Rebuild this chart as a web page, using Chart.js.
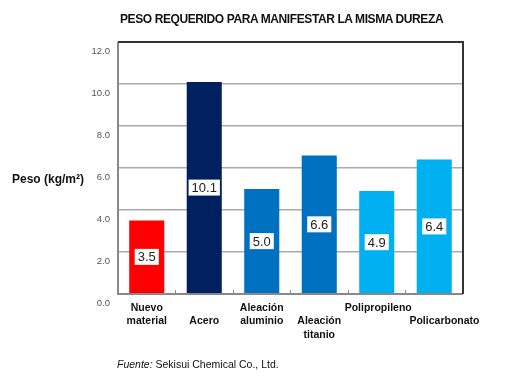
<!DOCTYPE html>
<html>
<head>
<meta charset="utf-8">
<script src="https://cdn.jsdelivr.net/npm/chart.js@4/dist/chart.umd.min.js"></script>
<style>
  body { margin: 0; background: #fff; }
  #wrap { position: relative; width: 520px; height: 382px; }
  canvas { position: absolute; left: 0; top: 0; }
  .txt { position: absolute; font-family: "Liberation Sans", Arial, sans-serif; color: #111; white-space: nowrap; }
  #title { left: 120px; top: 12px; font-size: 12px; font-weight: bold; letter-spacing: -0.4px; }
  #ytitle { left: 12px; top: 172px; font-size: 12px; font-weight: bold; }
  #note { left: 117px; top: 358px; font-size: 10.5px; }
</style>
</head>
<body>
<div id="wrap">
  <canvas id="peso" width="520" height="382"></canvas>
  <div class="txt" id="title">PESO REQUERIDO PARA MANIFESTAR LA MISMA DUREZA</div>
  <div class="txt" id="ytitle">Peso (kg/m²)</div>
  <div class="txt" id="note"><i>Fuente:</i> Sekisui Chemical Co., Ltd.</div>
</div>
<script>
// peso requerido por material
var materiales = [["Nuevo","material"], ["","Acero"], ["Aleación","aluminio"], ["","Aleación","titanio"], ["\u00a0Polipropileno"], ["","\u00a0\u00a0\u00a0\u00a0\u00a0\u00a0\u00a0Policarbonato"]];
var peso = [3.5, 10.1, 5.0, 6.6, 4.9, 6.4];
var colores = ["#ff0000", "#002060", "#0070c0", "#0070c0", "#00b0f0", "#00b0f0"];
var yTicks = [0, 2, 4, 6, 8, 10, 12];

// white boxes with the value in the middle of each bar
var etiquetas = {
  id: "etiquetas",
  afterDatasetsDraw: function(chart) {
    var ctx = chart.ctx;
    var meta = chart.getDatasetMeta(0);
    ctx.save();
    ctx.font = "13px 'Liberation Sans', Arial, sans-serif";
    ctx.textAlign = "center";
    ctx.textBaseline = "middle";
    meta.data.forEach(function(bar, i) {
      var txt = peso[i].toFixed(1);
      var w = ctx.measureText(txt).width + 6;
      var cy = (bar.y + bar.base) / 2;
      ctx.fillStyle = "#fff";
      ctx.fillRect(bar.x - w / 2, cy - 8, w, 16);
      ctx.fillStyle = "#222";
      ctx.fillText(txt, bar.x, cy + 1);
    });
    ctx.restore();
  }
};

// frame round the plot
var marco = {
  id: "marco",
  afterDraw: function(chart) {
    var a = chart.chartArea;
    var ctx = chart.ctx;
    ctx.save();
    ctx.lineWidth = 2;
    ctx.strokeStyle = "#888";
    ctx.beginPath();
    ctx.moveTo(a.left, a.top);
    ctx.lineTo(a.left, a.bottom);
    ctx.lineTo(a.right, a.bottom);
    ctx.stroke();
    ctx.strokeStyle = "#333";
    ctx.beginPath();
    ctx.moveTo(a.left, a.top);
    ctx.lineTo(a.right, a.top);
    ctx.lineTo(a.right, a.bottom);
    ctx.stroke();
    ctx.restore();
  }
};

new Chart("peso", {
  type: "bar",
  data: {
    labels: materiales,
    datasets: [{
      data: peso,
      backgroundColor: colores,
      borderWidth: 0,
      barPercentage: 0.61,
      categoryPercentage: 1
    }]
  },
  options: {
    responsive: false,
    animation: false,
    layout: { padding: { top: 42, right: 57, left: 0, bottom: 0 } },
    plugins: { legend: { display: false }, tooltip: { enabled: false } },
    scales: {
      x: {
        afterFit: function(s) { s.height = 88; },
        border: { display: false },
        grid: { display: true, drawOnChartArea: false, drawTicks: true, tickLength: -4, color: "#888", lineWidth: 1 },
        ticks: {
          autoSkip: false, maxRotation: 0, padding: 11, color: "#111",
          font: { family: "'Liberation Sans', Arial, sans-serif", size: 10.5, weight: "bold", lineHeight: 1.3 }
        }
      },
      y: {
        min: 0, max: 12,
        afterFit: function(s) { s.width = 118; },
        afterBuildTicks: function(s) { s.ticks = yTicks.map(function(v) { return { value: v }; }); },
        border: { display: false },
        grid: { color: "#aaa", lineWidth: 1.5, drawTicks: false },
        ticks: {
          padding: 8, labelOffset: 9, color: "#555",
          font: { family: "'Liberation Sans', Arial, sans-serif", size: 9.5 },
          callback: function(v) { return v.toFixed(1); }
        }
      }
    }
  },
  plugins: [etiquetas, marco]
});
</script>
</body>
</html>
